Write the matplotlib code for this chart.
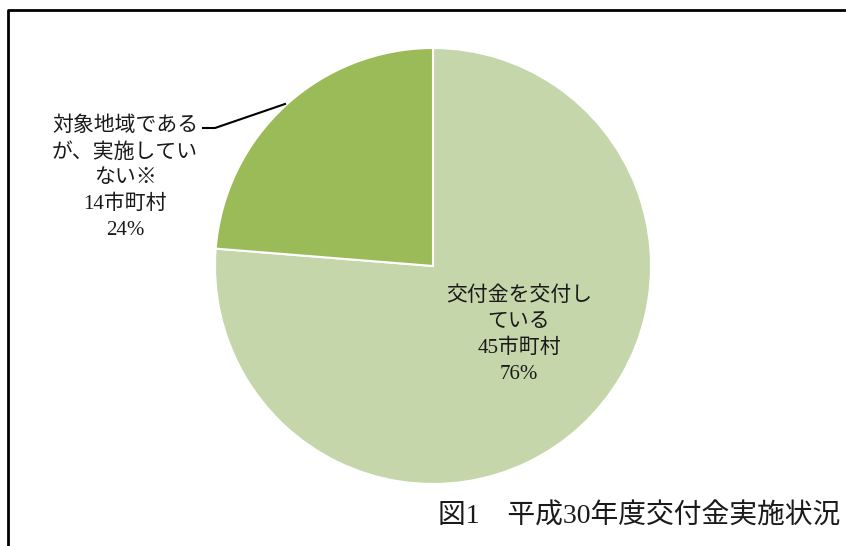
import matplotlib.pyplot as plt
from matplotlib.lines import Line2D

plt.rcParams['font.family'] = ['Liberation Serif', 'Noto Sans CJK JP']

# data
labels = ['交付金を交付し\nている', '対象地域である\nが、実施してい\nない※']
counts = [45, 14]
percents = [76, 24]
colors = ['#c4d6aa', '#9bbb59']
title = '図1　平成30年度交付金実施状況'

fig = plt.figure(figsize=(8.46, 5.46), dpi=100)
W, H = 846, 546

# pie axes placed by pixel box
cx, cy, r = 433, 266, 218
ax = fig.add_axes([(cx - r) / W, 1 - (cy + r) / H, 2 * r / W, 2 * r / H])
wedges, _ = ax.pie(counts, colors=colors, startangle=90, counterclock=False,
                   wedgeprops=dict(edgecolor='white', linewidth=1.5))
ax.set_xlim(-1, 1)
ax.set_ylim(-1, 1)
ax.set_aspect('auto')
ax.axis('off')

# data labels
txt = [f'{labels[i]}\n{counts[i]}市町村\n{percents[i]}%' for i in range(2)]
fig.text(519 / W, 1 - 335 / H, txt[0], ha='center', va='center',
         fontsize=15, linespacing=1.47, color='#1a1a1a')
fig.text(125 / W, 1 - 178 / H, txt[1], ha='center', va='center',
         fontsize=15, linespacing=1.47, color='#1a1a1a')

# leader line
fig.add_artist(Line2D([203 / W, 215 / W, 285 / W],
                      [1 - 128 / H, 1 - 128 / H, 1 - 104 / H],
                      color='black', linewidth=1.5))

# frame (left and top edges)
fig.add_artist(Line2D([8 / W, 8 / W, 1.0], [0.0, 1 - 10 / H, 1 - 10 / H],
                      color='black', linewidth=2))

fig.text(438 / W, 1 - 517 / H, title, ha='left', va='center',
         fontsize=20, color='#1a1a1a')

fig.savefig('out.png', dpi=100)
